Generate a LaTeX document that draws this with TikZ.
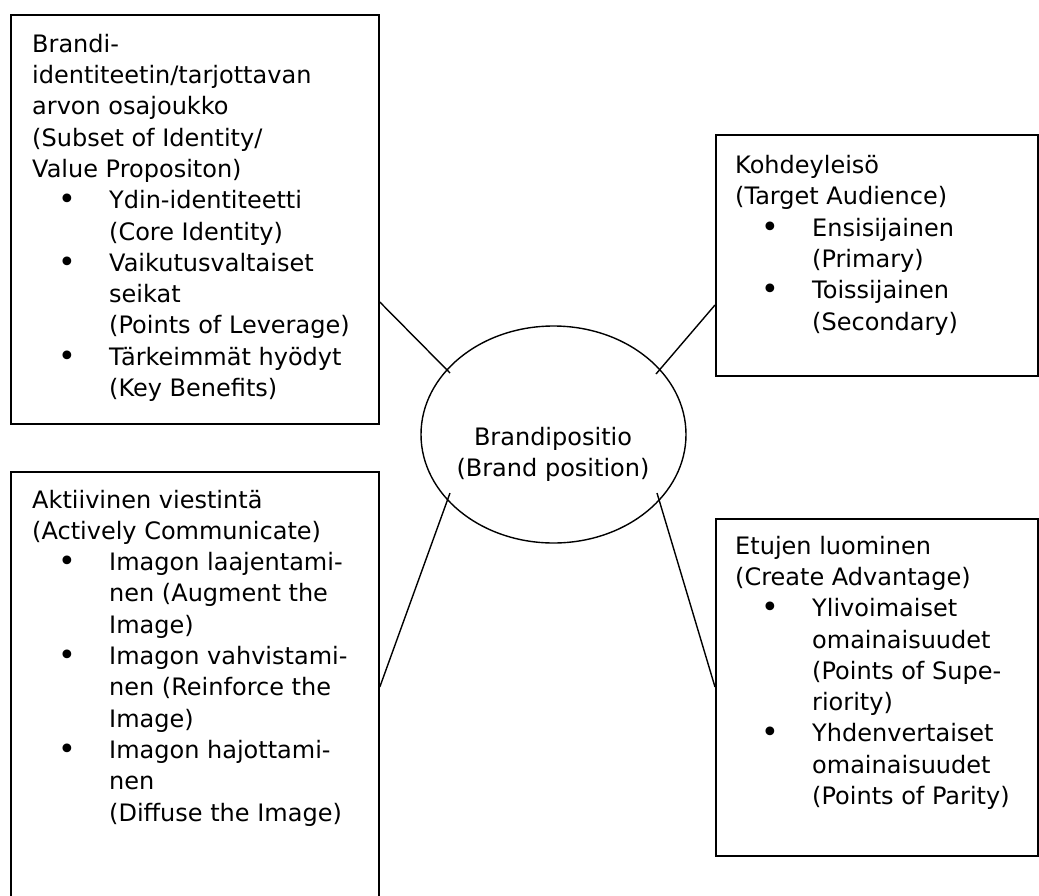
\documentclass[tikz,border=0pt]{standalone}
\usepackage{fontspec}
\setmainfont{DejaVu Sans}
\usetikzlibrary{calc,shapes.geometric}

% list helpers: bullet centred 35pt in, item text 77pt in
\newcommand\bulletmark{{\fontsize{30pt}{30pt}\selectfont\raisebox{-1pt}{•}}}
\newcommand\bulletline[1]{\makebox[77pt][l]{\hspace*{35pt}\makebox[0pt]{\bulletmark}}#1}
\newcommand\contline[1]{\hspace*{77pt}#1}

\begin{document}
\begin{tikzpicture}[x=1pt,y=-1pt,
  panel/.style={draw=black, line width=1.8pt, inner sep=0pt, anchor=north west},
  % anchored on the baseline of the last line
  paneltext/.style={anchor=base west, align=left, inner sep=0pt,
    font=\fontsize{24pt}{31.3pt}\selectfont},
  link/.style={draw=black, line width=1.4pt},
]
\useasboundingbox (0,0) rectangle (1039,895);
\clip (0,0) rectangle (1039,895);
\fill[white] (0,0) rectangle (1039,895);

% the four panels
\node[panel, minimum width=368pt, minimum height=409pt] (identity) at (10,14) {};
\node[panel, minimum width=322pt, minimum height=241pt] (audience) at (715,134) {};
\node[panel, minimum width=368pt, minimum height=460pt] (communicate) at (10,471) {};
\node[panel, minimum width=322pt, minimum height=337pt] (advantage) at (715,518) {};

% central ellipse
\node[draw=black, ellipse, line width=1.4pt, minimum width=265pt, minimum height=217pt,
  inner sep=0pt] (brand) at (553.5,434.5) {};
\node[anchor=base, align=center, inner sep=0pt, font=\fontsize{24pt}{31.3pt}\selectfont]
  (brandlabel) at (553,476.5) {Brandipositio\\(Brand position)};

% panel texts
\node[paneltext] (identitytext) at (32,396.5) {%
Brandi-\\
identiteetin/tarjottavan\\
arvon osajoukko\\
(Subset of Identity/\\
Value Propositon)\\
\bulletline{Ydin-identiteetti}\\
\contline{(Core Identity)}\\
\bulletline{Vaikutusvaltaiset}\\
\contline{seikat}\\
\contline{(Points of Leverage)}\\
\bulletline{Tärkeimmät hyödyt}\\
\contline{(Key Benefits)}};

\node[paneltext] (audiencetext) at (735,330) {%
Kohdeyleisö\\
(Target Audience)\\
\bulletline{Ensisijainen}\\
\contline{(Primary)}\\
\bulletline{Toissijainen}\\
\contline{(Secondary)}};

\node[paneltext] (communicatetext) at (32,821) {%
Aktiivinen viestintä\\
(Actively Communicate)\\
\bulletline{Imagon laajentami-}\\
\contline{nen (Augment the}\\
\contline{Image)}\\
\bulletline{Imagon vahvistami-}\\
\contline{nen (Reinforce the}\\
\contline{Image)}\\
\bulletline{Imagon hajottami-}\\
\contline{nen}\\
\contline{(Diffuse the Image)}};

\node[paneltext] (advantagetext) at (735,804.5) {%
Etujen luominen\\
(Create Advantage)\\
\bulletline{Ylivoimaiset}\\
\contline{omainaisuudet}\\
\contline{(Points of Supe-}\\
\contline{riority)}\\
\bulletline{Yhdenvertaiset}\\
\contline{omainaisuudet}\\
\contline{(Points of Parity)}};

% connector end points
\coordinate (identityport) at ($(identity.north east)+(0,288)$);
\coordinate (audienceport) at ($(audience.north west)+(0,171)$);
\coordinate (communicateport) at ($(communicate.north east)+(0,216)$);
\coordinate (advantageport) at ($(advantage.north west)+(0,169)$);
\coordinate (brandnw) at ($(brand.center)+(-103.5,-61.5)$);
\coordinate (brandne) at ($(brand.center)+(102.5,-60.5)$);
\coordinate (brandsw) at ($(brand.center)+(-103.5,58.5)$);
\coordinate (brandse) at ($(brand.center)+(103.5,58.5)$);

% connectors
\draw[link] (identityport) -- (brandnw);
\draw[link] (audienceport) -- (brandne);
\draw[link] (communicateport) -- (brandsw);
\draw[link] (advantageport) -- (brandse);
\end{tikzpicture}
\end{document}
